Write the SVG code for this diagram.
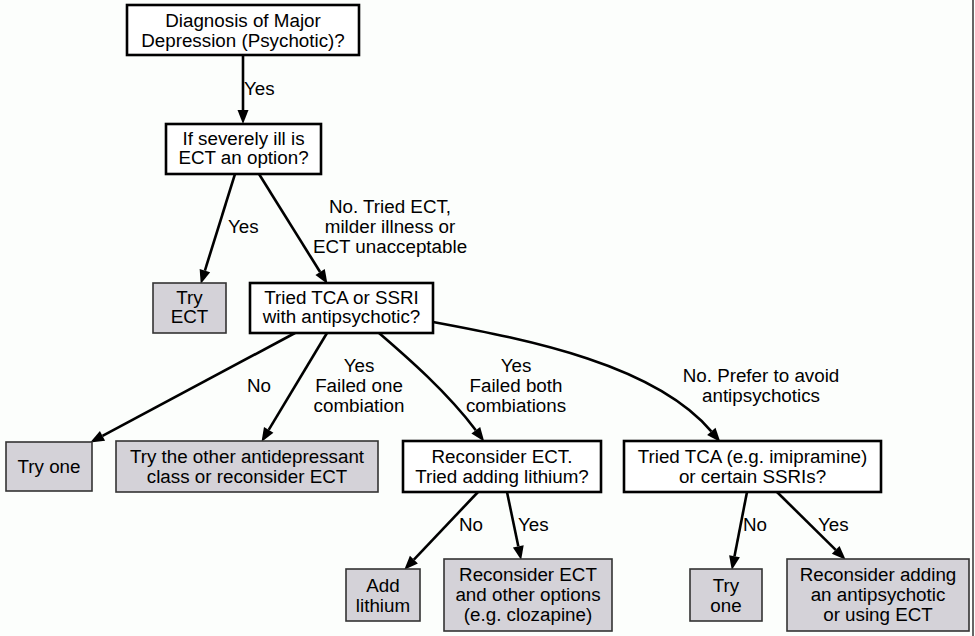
<svg xmlns="http://www.w3.org/2000/svg" width="975" height="636" viewBox="0 0 975 636">
<defs>
<marker id="ah" markerUnits="userSpaceOnUse" markerWidth="15" markerHeight="12" refX="0" refY="5.5" orient="auto" overflow="visible">
<path d="M0,0 L14,5.5 L0,11 z" fill="#000"/>
</marker>
</defs>
<style>
text{font-family:"Liberation Sans",Arial,sans-serif;font-size:18.8px;fill:#000}
.q rect{fill:#fff;stroke:#000;stroke-width:2.6}
.l rect{fill:#d4d2d8;stroke:#333;stroke-width:1.6}
.n text{text-anchor:middle}
#edges path{fill:none;stroke:#000;stroke-width:2.6;marker-end:url(#ah)}
.lbl{text-anchor:middle}
</style>
<rect width="975" height="636" fill="#fcfefc"/>
<line x1="973" y1="0" x2="973" y2="636" stroke="#666" stroke-width="2"/>

<g id="edges">
<path d="M243,55 L243,110"/>
<path d="M235,174 L204.9,270.6"/>
<path d="M259,174 L320.1,272"/>
<path d="M295,333 L102.5,435.9"/>
<path d="M327,333 L268.7,429.9"/>
<path d="M379,333 C408,358 447,392 475.8,430.2"/>
<path d="M433,322 C530,340 655,365 711.3,431.4"/>
<path d="M478,492 L413.9,559.6"/>
<path d="M507,492 L518.3,546.3"/>
<path d="M747,492 L734.5,556.2"/>
<path d="M777,492 L835.7,549.9"/>
<text x="244" y="95">Yes</text>
<text x="228" y="233">Yes</text>
<text class="lbl" x="390" y="213">No. Tried ECT,</text>
<text class="lbl" x="390" y="233">milder illness or</text>
<text class="lbl" x="390" y="253">ECT unacceptable</text>
<text x="247" y="392">No</text>
<text class="lbl" x="359" y="372">Yes</text>
<text class="lbl" x="359" y="392">Failed one</text>
<text class="lbl" x="359" y="412">combiation</text>
<text class="lbl" x="516" y="372">Yes</text>
<text class="lbl" x="516" y="392">Failed both</text>
<text class="lbl" x="516" y="412">combiations</text>
<text class="lbl" x="761" y="382">No. Prefer to avoid</text>
<text class="lbl" x="761" y="402">antipsychotics</text>
<text x="459" y="531">No</text>
<text x="518" y="531">Yes</text>
<text x="743" y="531">No</text>
<text x="818" y="531">Yes</text>
</g>

<g id="n1" class="n q">
<rect x="127" y="5" width="232" height="50"/>
<text x="243" y="26.5">Diagnosis of Major</text>
<text x="243" y="46.5">Depression (Psychotic)?</text>
</g>
<g id="n2" class="n q">
<rect x="166" y="124" width="155" height="50"/>
<text x="243.5" y="144.5">If severely ill is</text>
<text x="243.5" y="164">ECT an option?</text>
</g>
<g id="n3" class="n l">
<rect x="153" y="283" width="73" height="50"/>
<text x="189.5" y="303.5">Try</text>
<text x="189.5" y="323">ECT</text>
</g>
<g id="n4" class="n q">
<rect x="250" y="283" width="183" height="50"/>
<text x="341.5" y="303.5">Tried TCA or SSRI</text>
<text x="341.5" y="323">with antipsychotic?</text>
</g>
<g id="n5" class="n l">
<rect x="6" y="442" width="86" height="49"/>
<text x="49" y="473">Try one</text>
</g>
<g id="n6" class="n l">
<rect x="116" y="441" width="262" height="51"/>
<text x="247" y="463">Try the other antidepressant</text>
<text x="247" y="483">class or reconsider ECT</text>
</g>
<g id="n7" class="n q">
<rect x="403" y="441" width="198" height="51"/>
<text x="502" y="463">Reconsider ECT.</text>
<text x="502" y="483">Tried adding lithium?</text>
</g>
<g id="n8" class="n q">
<rect x="624" y="441" width="257" height="51"/>
<text x="752.5" y="463">Tried TCA (e.g. imipramine)</text>
<text x="752.5" y="483">or certain SSRIs?</text>
</g>
<g id="n9" class="n l">
<rect x="346" y="569" width="74" height="52"/>
<text x="383" y="591.5">Add</text>
<text x="383" y="611.5">lithium</text>
</g>
<g id="n10" class="n l">
<rect x="444" y="559" width="168" height="72"/>
<text x="528" y="581">Reconsider ECT</text>
<text x="528" y="601">and other options</text>
<text x="528" y="621">(e.g. clozapine)</text>
</g>
<g id="n11" class="n l">
<rect x="690" y="569" width="72" height="52"/>
<text x="726" y="591.5">Try</text>
<text x="726" y="611.5">one</text>
</g>
<g id="n12" class="n l">
<rect x="787" y="559" width="182" height="72"/>
<text x="878" y="581">Reconsider adding</text>
<text x="878" y="601">an antipsychotic</text>
<text x="878" y="621">or using ECT</text>
</g>
</svg>
